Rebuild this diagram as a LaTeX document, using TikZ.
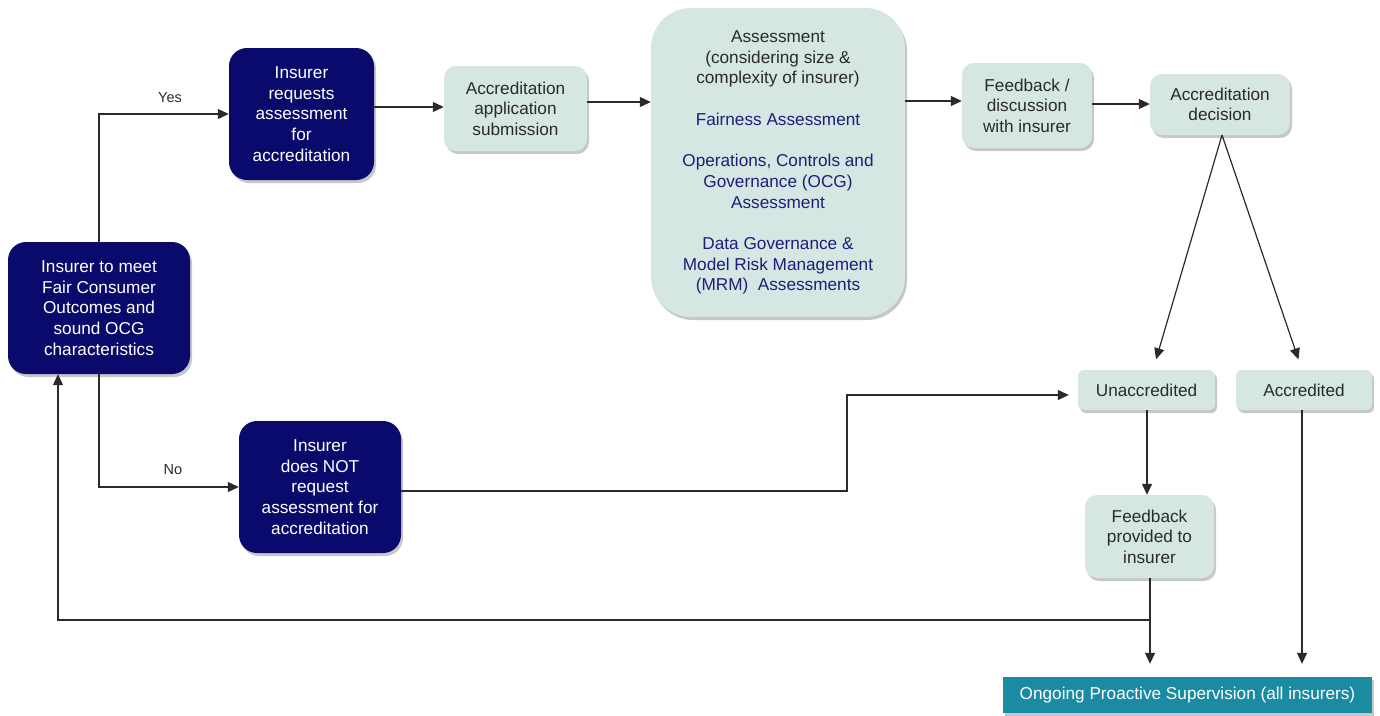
\documentclass[tikz,border=0pt]{standalone}
\usepackage{fontspec}
\setmainfont{Liberation Sans}
\usetikzlibrary{arrows.meta,shadows,calc}
\definecolor{navybox}{HTML}{0A0A6C}
\definecolor{palebox}{HTML}{D6E6E2}
\definecolor{tealbox}{HTML}{1B8BA3}
\definecolor{linegray}{HTML}{2A2A2A}
\definecolor{textgray}{HTML}{2A2A2A}
\definecolor{bluetext}{HTML}{1E1E7A}
\begin{document}
\begin{tikzpicture}[x=1pt,y=-1pt,
  base/.style={align=center, inner sep=2pt,
    font=\fontsize{17.2}{20.6}\selectfont,
    drop shadow={shadow xshift=2pt, shadow yshift=-3pt, fill=black, opacity=0.22}},
  darkbox/.style={base, fill=navybox, text=white, rounded corners=18pt},
  palenode/.style={base, fill=palebox, text=textgray, rounded corners=12pt},
  tagbox/.style={base, fill=palebox, text=textgray, rounded corners=6pt},
  finalbox/.style={base, fill=tealbox, text=white, rounded corners=0pt},
  conn/.style={draw=linegray, line width=1.2pt, -{Triangle[length=11pt,width=10pt]}},
  lbl/.style={font=\fontsize{14.5}{16}\selectfont, text=textgray}
]
\useasboundingbox (0,0) rectangle (1380,715);

% boxes
\node[darkbox, minimum width=182pt, minimum height=132pt] (A) at (99,308)
  {Insurer to meet\\Fair Consumer\\Outcomes and\\sound OCG\\characteristics};
\node[darkbox, minimum width=145pt, minimum height=132pt] (B) at (301.5,114)
  {Insurer\\requests\\assessment\\for\\accreditation};
\node[darkbox, minimum width=162pt, minimum height=132pt] (J) at (320,487)
  {Insurer\\does NOT\\request\\assessment for\\accreditation};
\node[palenode, minimum width=143pt, minimum height=85pt] (C) at (515.5,108.5)
  {Accreditation\\application\\submission};
\node[palenode, rounded corners=40pt, minimum width=254pt, minimum height=309pt] (D) at (778,162.5)
  {Assessment\\(considering size \&\\complexity of insurer)\\[21pt]
   \textcolor{bluetext}{Fairness Assessment}\\[21pt]
   \textcolor{bluetext}{Operations, Controls and}\\
   \textcolor{bluetext}{Governance (OCG)}\\
   \textcolor{bluetext}{Assessment}\\[21pt]
   \textcolor{bluetext}{Data Governance \&}\\
   \textcolor{bluetext}{Model Risk Management}\\
   \textcolor{bluetext}{(MRM)\ \ Assessments}};
\node[palenode, minimum width=130pt, minimum height=85pt] (E) at (1027,105.5)
  {Feedback /\\discussion\\with insurer};
\node[palenode, minimum width=140pt, minimum height=61pt] (F) at (1220,104.5)
  {Accreditation\\decision};
\node[tagbox, minimum width=137pt, minimum height=40pt] (G) at (1146.5,390)
  {Unaccredited};
\node[tagbox, minimum width=136pt, minimum height=40pt] (H) at (1304,390)
  {Accredited};
\node[palenode, minimum width=129pt, minimum height=83pt] (I) at (1149.5,536.5)
  {Feedback\\provided to\\insurer};
\node[finalbox, minimum width=369pt, minimum height=36pt] (K) at (1187.5,695)
  {Ongoing Proactive Supervision (all insurers)};

% branch labels
\node[lbl] (yes) at (170,98) {Yes};
\node[lbl] (no) at (173,470) {No};

% routing points
\coordinate (fdec) at (1222,135);
\coordinate (jmid) at (847,491);
\coordinate (back) at (1150,620);

% connectors
\draw[conn] (A.north) |- (B.west);
\draw[conn] (A.south) |- (J.west);
\draw[conn] (B.east |- 0,107) -- (C.west |- 0,107);
\draw[conn] (C.east |- 0,102) -- (D.west |- 0,102);
\draw[conn] (D.east |- 0,101) -- (E.west |- 0,101);
\draw[conn] (E.east |- 0,104) -- (F.west |- 0,104);
\draw[conn, shorten >=11pt] (fdec) -- (G.north -| 1153,0);
\draw[conn, shorten >=11pt] (fdec) -- (H.north -| 1302,0);
\draw[conn, shorten >=9pt] (J.east |- jmid) -- (jmid) |- (G.west |- 0,395);
\draw[conn] (G.south -| 1147,0) -- (I.north -| 1147,0);
\draw[conn, shorten >=13pt] (I.south -| back) -- (K.north -| back);
\draw[conn, shorten >=13pt] (H.south -| 1302,0) -- (K.north -| 1302,0);
\draw[conn] (back) -- (58,620) -- (A.south -| 58,0);
\end{tikzpicture}
\end{document}
